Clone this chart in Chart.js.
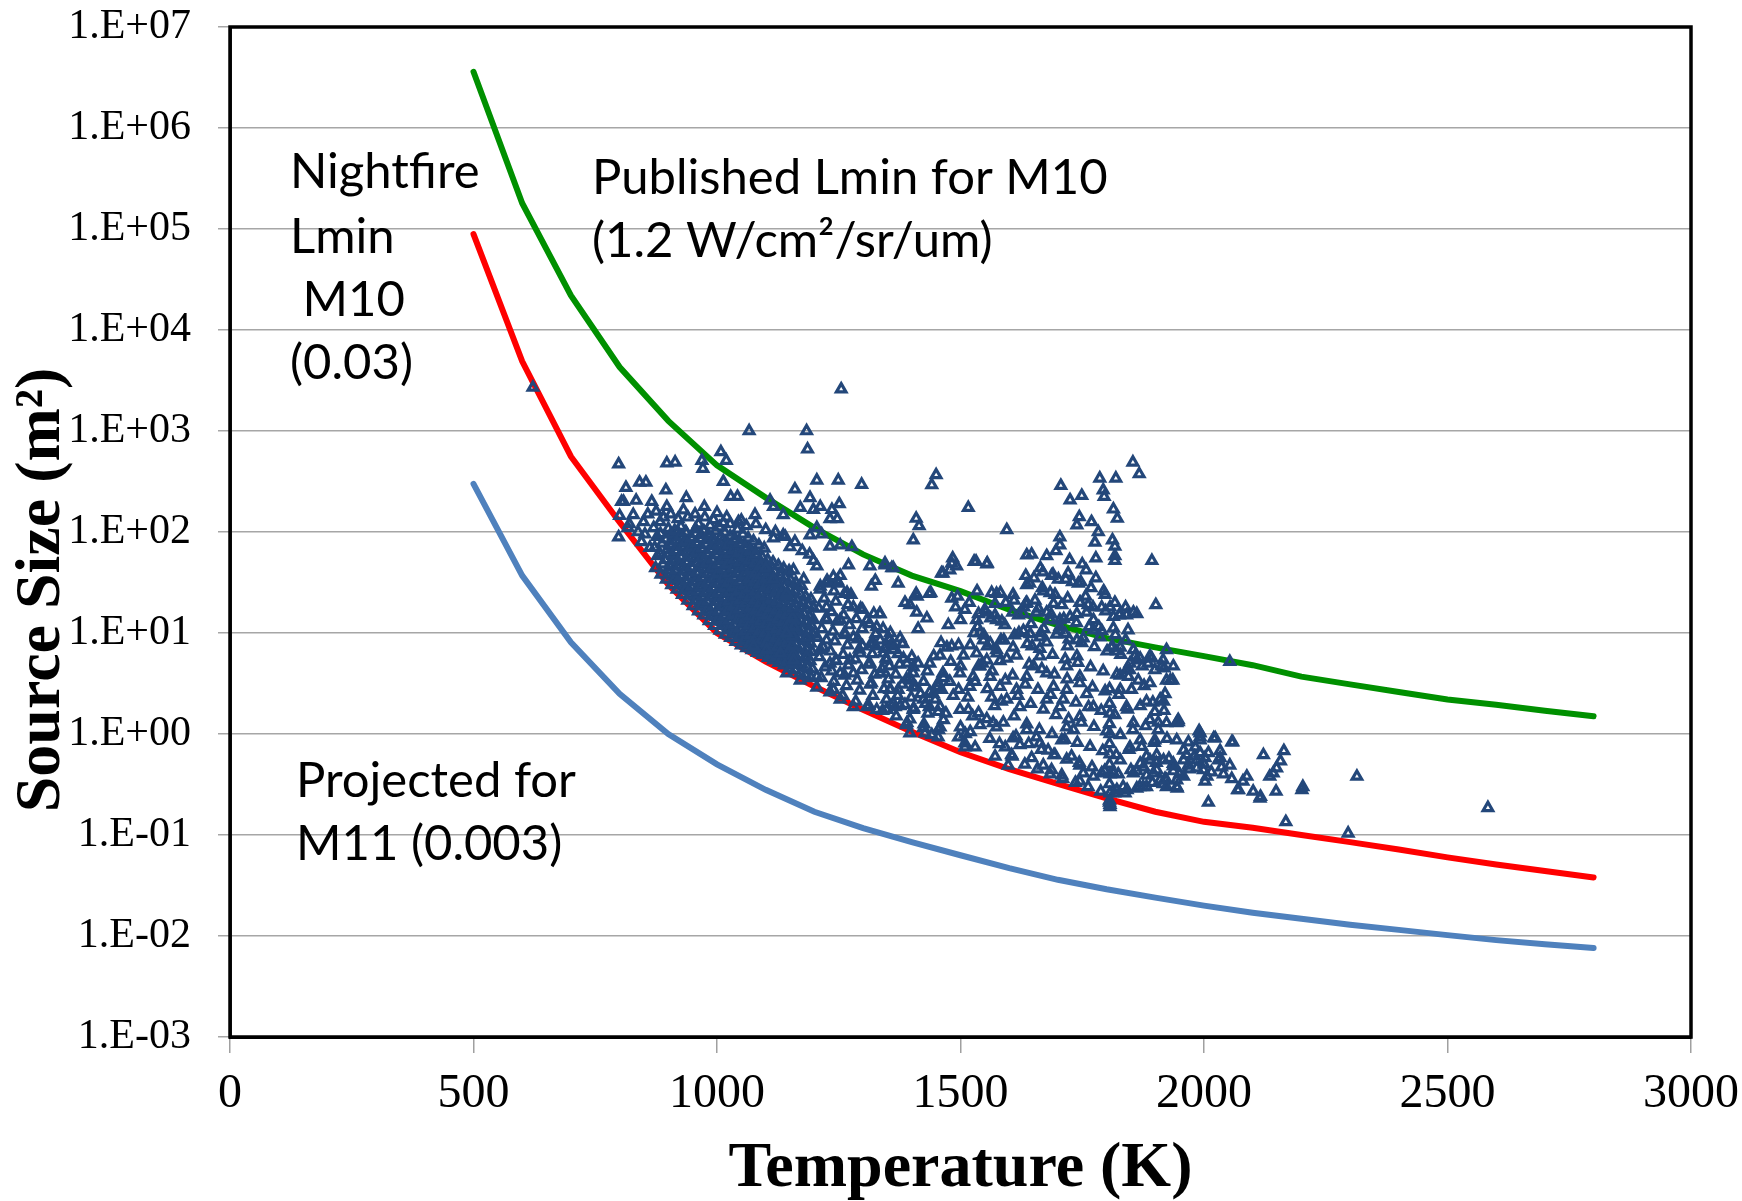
<!DOCTYPE html>
<html>
<head>
<meta charset="utf-8">
<script src="https://cdn.jsdelivr.net/npm/chart.js@4.4.0/dist/chart.umd.min.js"></script>
<style>
  html, body { margin: 0; padding: 0; background: #fff; }
</style>
</head>
<body>
<canvas id="chart" width="1742" height="1201"></canvas>
<script>
// axes
const xTickValues = [0, 500, 1000, 1500, 2000, 2500, 3000];
const xTickLabels = ["0", "500", "1000", "1500", "2000", "2500", "3000"];
const yTickValues = [1e-3, 1e-2, 1e-1, 1e0, 1e1, 1e2, 1e3, 1e4, 1e5, 1e6, 1e7];
const yTickLabels = ["1.E-03", "1.E-02", "1.E-01", "1.E+00", "1.E+01", "1.E+02",
  "1.E+03", "1.E+04", "1.E+05", "1.E+06", "1.E+07"];

// detection limit curves (temperature K -> source size m2)
const curveTemp = [500, 600, 700, 800, 900, 1000, 1100, 1200, 1300, 1400, 1500, 1600,
  1700, 1800, 1900, 2000, 2100, 2200, 2300, 2400, 2500, 2600, 2700, 2800];
const publishedM10 = [3.6e6, 1.8e5, 2.2e4, 4.3e3, 1.26e3, 457, 219, 110, 60, 37, 26, 17,
  12, 8.9, 7.2, 5.9, 4.8, 3.7, 3.1, 2.6, 2.2, 1.95, 1.7, 1.5];
const nightfireM10 = [8.9e4, 4.9e3, 560, 125, 30, 10, 5.2, 2.95, 1.74, 1.05, 0.66, 0.45,
  0.32, 0.23, 0.17, 0.135, 0.118, 0.1, 0.085, 0.072, 0.06, 0.051, 0.044, 0.038];
const projectedM11 = [300, 37, 8.1, 2.5, 1.0, 0.5, 0.28, 0.17, 0.117, 0.085, 0.063, 0.047,
  0.036, 0.029, 0.024, 0.02, 0.017, 0.0148, 0.0129, 0.0115, 0.0102, 0.0091, 0.0083, 0.0076];

// detected fires [temperature K, source size m2]
const firesSparse = [
  [622, 2700], [1255, 2600], [1066, 1000], [1184, 1000], [1186, 660], [798, 470], [897, 480],
  [914, 490], [969, 510], [971, 425], [1008, 620], [1019, 510], [813, 275], [841, 310], [854, 310],
  [895, 260], [1013, 315], [937, 218], [974, 178], [1028, 224], [1042, 224], [1160, 265], [1205, 325],
  [1249, 325], [1297, 295], [1191, 218], [804, 200], [808, 200], [834, 205], [866, 200], [897, 178],
  [800, 145], [828, 148], [849, 126], [883, 126], [931, 165], [1109, 205], [1116, 178], [1136, 148],
  [1171, 174], [1198, 166], [1212, 178], [1236, 166], [1251, 190], [1232, 135], [1247, 135], [798, 89],
  [817, 110], [1078, 148], [1044, 126], [993, 132], [1013, 123], [1027, 120], [1191, 93], [1215, 95],
  [1232, 72], [1253, 74], [1277, 71], [1205, 110], [1314, 46], [1325, 33], [1334, 15.5], [1345, 49],
  [1362, 44], [1270, 47], [1253, 37], [1225, 31], [1247, 33], [1205, 46], [1150, 71], [1116, 87],
  [1136, 93], [820, 120], [838, 100], [852, 95], [845, 80], [862, 70], [870, 110], [858, 150],
  [875, 160], [890, 140], [905, 150], [920, 135], [940, 140], [955, 150], [975, 140], [1000, 155],
  [1020, 140], [1050, 130], [1060, 115], [1080, 120], [1100, 105], [1120, 100], [1140, 90], [1160, 80],
  [1175, 65], [1190, 60]
];
const firesCore = [
  [874, 44], [878, 58], [872, 70], [877, 90],
  [885, 38], [889, 48], [883, 61], [887, 77], [884, 96],
  [896, 34], [899, 42], [894, 53], [898, 67], [895, 85], [900, 108],
  [907, 30], [910, 37], [905, 46], [909, 58], [906, 73], [911, 92],
  [918, 27], [921, 33], [916, 41], [920, 51], [917, 64], [922, 80], [919, 101],
  [929, 24], [932, 29], [927, 36], [931, 45], [928, 57], [933, 71], [930, 90], [926, 113],
  [940, 21], [943, 26], [938, 32], [942, 40], [939, 50], [944, 62], [941, 78], [937, 98],
  [951, 18.5], [954, 23], [949, 28], [953, 35], [950, 44], [955, 55], [952, 69], [948, 86], [956, 107],
  [962, 16.5], [965, 20], [960, 25], [964, 31], [961, 39], [966, 48], [963, 60], [959, 75], [967, 94], [962, 120],
  [973, 15], [976, 18.5], [971, 23], [975, 28], [972, 34], [977, 43], [974, 53], [970, 66], [978, 83], [973, 102],
  [984, 13.2], [987, 16.3], [982, 20.5], [986, 25], [983, 31], [988, 38], [985, 47], [981, 59], [989, 73], [984, 91], [986, 116],
  [995, 11.8], [998, 14.5], [993, 18], [997, 22], [994, 27], [999, 34], [996, 42], [992, 52], [1000, 65], [995, 81], [997, 102],
  [1006, 10.6], [1009, 13], [1004, 16], [1008, 19.5], [1005, 24.5], [1010, 30], [1007, 37], [1003, 46], [1011, 57], [1006, 71], [1008, 89], [1005, 112],
  [1017, 9.7], [1020, 11.8], [1015, 14.5], [1019, 17.5], [1016, 21.5], [1021, 27], [1018, 33], [1014, 41], [1022, 51], [1017, 63], [1019, 79], [1016, 99],
  [1028, 9], [1031, 10.8], [1026, 13.3], [1030, 16.2], [1027, 20], [1032, 24.5], [1029, 30.5], [1025, 38], [1033, 47], [1028, 58], [1030, 72], [1027, 91],
  [1039, 8.2], [1042, 10], [1037, 12.2], [1041, 15], [1038, 18.5], [1043, 22.5], [1040, 28], [1036, 35], [1044, 43], [1039, 53], [1041, 67], [1038, 84], [1042, 106],
  [1050, 7.6], [1053, 9.2], [1048, 11.2], [1052, 13.8], [1049, 17], [1054, 21], [1051, 25.5], [1047, 32], [1055, 39], [1050, 49], [1052, 61], [1049, 76], [1053, 95],
  [1061, 7.1], [1064, 8.6], [1059, 10.6], [1063, 12.8], [1060, 15.8], [1065, 19.4], [1062, 24], [1058, 29.5], [1066, 36.5], [1061, 45], [1063, 56], [1060, 70], [1064, 87],
  [1072, 6.8], [1075, 8.2], [1070, 10], [1074, 12.2], [1071, 14.8], [1076, 18.2], [1073, 22.3], [1069, 27.5], [1077, 33.5], [1072, 41.5], [1074, 52], [1071, 65], [1075, 81],
  [1083, 6.4], [1086, 7.7], [1081, 9.4], [1085, 11.4], [1082, 13.9], [1087, 17], [1084, 20.8], [1080, 25.5], [1088, 31.5], [1083, 38.5], [1085, 48], [1082, 59], [1086, 74],
  [1094, 6.1], [1097, 7.3], [1092, 8.9], [1096, 10.8], [1093, 13.2], [1098, 16.2], [1095, 19.8], [1091, 24.2], [1099, 29.5], [1094, 36.5], [1096, 45], [1093, 56], [1097, 69],
  [1105, 5.7], [1108, 6.9], [1103, 8.4], [1107, 10.2], [1104, 12.4], [1109, 15.2], [1106, 18.6], [1102, 22.8], [1110, 28], [1105, 34.5], [1107, 42.5], [1104, 53],
  [1116, 5.4], [1119, 6.6], [1114, 8], [1118, 9.7], [1115, 11.8], [1120, 14.5], [1117, 17.7], [1113, 21.7], [1121, 26.5], [1116, 32.5], [1118, 40.5], [1115, 50],
  [1127, 5.1], [1130, 6.2], [1125, 7.5], [1129, 9.1], [1126, 11.1], [1131, 13.6], [1128, 16.6], [1124, 20.3], [1132, 24.8], [1127, 30.5], [1129, 37.5], [1126, 46.5],
  [1138, 4.8], [1141, 5.8], [1136, 7.1], [1140, 8.6], [1137, 10.5], [1142, 12.8], [1139, 15.7], [1135, 19.2], [1143, 23.5], [1138, 28.8], [1140, 35.5], [1137, 43.5],
  [1149, 4.5], [1152, 5.5], [1147, 6.7], [1151, 8.1], [1148, 9.9], [1153, 12.1], [1150, 14.8], [1146, 18.1], [1154, 22.2], [1149, 27.2], [1151, 33.5], [1148, 41],
  [1160, 4.3], [1163, 5.2], [1158, 6.3], [1162, 7.7], [1159, 9.4], [1164, 11.5], [1161, 14], [1157, 17.2], [1165, 21], [1160, 25.8], [1162, 31.5],
  [1171, 4], [1174, 4.9], [1169, 6], [1173, 7.3], [1170, 8.9], [1175, 10.8], [1172, 13.2], [1168, 16.2], [1176, 19.8], [1171, 24.2], [1173, 29.5],
  [1182, 3.8], [1185, 4.6], [1180, 5.6], [1184, 6.9], [1181, 8.4], [1186, 10.3], [1183, 12.6], [1179, 15.4], [1187, 18.8], [1182, 23],
  [1193, 3.6], [1196, 4.4], [1191, 5.3], [1195, 6.5], [1192, 7.9], [1197, 9.7], [1194, 11.8], [1190, 14.5], [1198, 17.7], [1193, 21.6]
];
// the darkest part of the cloud, where the marks overlap into a solid mass
const firesCoreFill = [
  [902, 39], [904, 48], [901, 60], [903, 76], [905, 95],
  [913, 34], [915, 42], [912, 52], [914, 65], [916, 82], [913, 103],
  [924, 30], [926, 37], [923, 46], [925, 57], [927, 72], [924, 90],
  [935, 26.5], [937, 33], [934, 41], [936, 51], [938, 64], [935, 80], [936, 100],
  [946, 23.5], [948, 29], [945, 36], [947, 45], [949, 56], [946, 70], [947, 88],
  [957, 21], [959, 26], [956, 32], [958, 40], [960, 50], [957, 62], [958, 78], [956, 96],
  [968, 18.5], [970, 23], [967, 28.5], [969, 35.5], [971, 44], [968, 55], [969, 69], [967, 86],
  [979, 16.5], [981, 20.5], [978, 25.5], [980, 31.5], [982, 39], [979, 49], [980, 61], [978, 76], [981, 94],
  [990, 14.8], [992, 18.3], [989, 22.7], [991, 28], [993, 35], [990, 43.5], [991, 54], [989, 67], [992, 84],
  [1001, 13.2], [1003, 16.4], [1000, 20.3], [1002, 25], [1004, 31], [1001, 38.5], [1002, 48], [1000, 60], [1003, 75],
  [1012, 12], [1014, 14.8], [1011, 18.3], [1013, 22.6], [1015, 28], [1012, 34.5], [1013, 43], [1011, 53], [1014, 66], [1012, 82],
  [1023, 10.8], [1025, 13.4], [1022, 16.6], [1024, 20.5], [1026, 25.4], [1023, 31.4], [1024, 39], [1022, 48], [1025, 60], [1023, 74],
  [1034, 9.9], [1036, 12.2], [1033, 15.1], [1035, 18.7], [1037, 23.1], [1034, 28.6], [1035, 35.4], [1033, 44], [1036, 54], [1034, 67], [1035, 83],
  [1045, 9.1], [1047, 11.2], [1044, 13.9], [1046, 17.2], [1048, 21.2], [1045, 26.3], [1046, 32.5], [1044, 40], [1047, 50], [1045, 62], [1046, 77],
  [1056, 8.4], [1058, 10.4], [1055, 12.8], [1057, 15.8], [1059, 19.6], [1056, 24.2], [1057, 30], [1055, 37], [1058, 46], [1056, 57], [1057, 70],
  [1067, 7.8], [1069, 9.6], [1066, 11.9], [1068, 14.7], [1070, 18.2], [1067, 22.5], [1068, 27.8], [1066, 34.4], [1069, 42.5], [1067, 52.5], [1068, 65],
  [1078, 7.3], [1080, 9], [1077, 11.1], [1079, 13.7], [1081, 17], [1078, 21], [1079, 26], [1077, 32], [1080, 39.5], [1078, 49], [1079, 60],
  [1089, 6.9], [1091, 8.5], [1088, 10.5], [1090, 13], [1092, 16], [1089, 19.8], [1090, 24.5], [1088, 30.3], [1091, 37.5], [1089, 46.3],
  [1100, 6.5], [1102, 8], [1099, 9.9], [1101, 12.2], [1103, 15.1], [1100, 18.7], [1101, 23.1], [1099, 28.6], [1102, 35.3], [1100, 43.7],
  [1111, 6.1], [1113, 7.6], [1110, 9.4], [1112, 11.6], [1114, 14.3], [1111, 17.7], [1112, 21.9], [1110, 27], [1113, 33.4],
  [1122, 5.8], [1124, 7.2], [1121, 8.9], [1123, 11], [1125, 13.6], [1122, 16.8], [1123, 20.7], [1121, 25.6], [1124, 31.6],
  [1133, 5.5], [1135, 6.8], [1132, 8.4], [1134, 10.4], [1136, 12.9], [1133, 15.9], [1134, 19.6], [1132, 24.3],
  [1144, 5.2], [1146, 6.4], [1143, 7.9], [1145, 9.8], [1147, 12.1], [1144, 15], [1145, 18.6], [1143, 23],
  [1155, 4.9], [1157, 6.1], [1154, 7.5], [1156, 9.3], [1158, 11.5], [1155, 14.2], [1156, 17.5]
];
const firesWarm = [
  [1205, 2.9], [1214, 3.6], [1222, 4.6], [1210, 5.8], [1218, 7.2], [1206, 9], [1215, 11], [1224, 14], [1209, 17.5], [1220, 22], [1212, 27], [1226, 33],
  [1232, 2.6], [1240, 3.3], [1236, 4.2], [1245, 5.3], [1233, 6.6], [1242, 8.3], [1238, 10.4], [1247, 13], [1235, 16.2], [1244, 20.5], [1240, 26], [1249, 31],
  [1258, 2.4], [1266, 3], [1262, 3.8], [1270, 4.8], [1259, 6.1], [1268, 7.6], [1263, 9.6], [1272, 12], [1260, 15], [1269, 19], [1275, 24],
  [1285, 2.1], [1293, 2.7], [1288, 3.4], [1297, 4.3], [1284, 5.5], [1292, 6.9], [1289, 8.7], [1298, 11], [1286, 13.8], [1295, 17.5],
  [1312, 1.9], [1320, 2.4], [1315, 3.1], [1324, 3.9], [1311, 4.9], [1319, 6.2], [1316, 7.8], [1326, 9.8], [1313, 12.3], [1322, 15.5],
  [1340, 1.7], [1348, 2.2], [1343, 2.8], [1352, 3.5], [1339, 4.4], [1347, 5.6], [1344, 7], [1353, 8.8], [1341, 11],
  [1368, 1.5], [1376, 1.9], [1371, 2.4], [1380, 3.1], [1367, 3.9], [1375, 4.9], [1372, 6.2], [1381, 7.8],
  [1396, 1.4], [1404, 1.8], [1399, 2.3], [1408, 2.9], [1395, 3.6], [1403, 4.6], [1400, 5.8],
  [1425, 1.25], [1433, 1.6], [1428, 2], [1437, 2.6], [1424, 3.3], [1432, 4.2],
  [1455, 1.1], [1470, 1.6], [1485, 2.4], [1465, 3.6], [1480, 5.2], [1460, 8], [1475, 12], [1490, 18],
  [1510, 1.0], [1525, 1.5], [1515, 2.3], [1530, 3.3], [1545, 5], [1520, 7.6], [1535, 11.5], [1550, 17],
  [1560, 0.9], [1570, 1.9], [1555, 2.8], [1565, 4.2], [1575, 6.3], [1548, 9.5], [1562, 14]
];
const firesMid = [
  [1157, 42], [1178, 34], [1198, 52], [1212, 29], [1239, 36], [1267, 25], [1280, 18], [1308, 13.5],
  [1328, 11.5], [1356, 10], [1253, 13.5], [1225, 18], [1198, 13.5], [1171, 18], [1143, 24.5], [1116, 34],
  [1143, 10], [1184, 9.1], [1225, 8.5], [1280, 9.1], [1321, 7.9],
  [1143, 4.0], [1171, 3.4], [1205, 3.7], [1239, 2.75], [1253, 2.2], [1280, 1.86], [1308, 1.86], [1328, 1.74],
  [1349, 1.74], [1362, 2.0], [1356, 2.75], [1335, 4.0], [1314, 5.0], [1294, 6.3], [1273, 5.4], [1253, 4.0],
  [1232, 5.0], [1212, 6.8], [1184, 5.9], [1157, 5.4], [1130, 6.3], [1102, 6.8], [1075, 7.4], [1342, 6.3], [1362, 7.4],
  [1299, 17], [1335, 15.5], [1354, 8.5], [1381, 7.9], [1326, 7.4], [1354, 4.7], [1390, 5.0], [1399, 3.4],
  [1418, 2.5], [1390, 1.29], [1427, 1.02], [1436, 1.86], [1454, 2.95], [1464, 4.0], [1445, 5.9], [1482, 7.4],
  [1500, 4.7], [1519, 2.95], [1537, 4.7], [1555, 7.4], [1528, 10], [1500, 13.5], [1537, 15.5], [1574, 13.5],
  [1583, 8.5], [1564, 2.3], [1537, 1.62], [1500, 1.17], [1574, 1.17], [1592, 0.74], [1509, 0.74], [1454, 0.93],
  [1244, 5.4], [1280, 4.0], [1317, 3.2], [1299, 7.4], [1262, 10], [1225, 13.5], [1262, 24.5], [1317, 29],
  [1372, 31], [1409, 24.5], [1436, 24.5], [1464, 39], [1482, 49], [1528, 51], [1555, 49], [1574, 24.5],
  [1610, 21], [1629, 15.5], [1620, 10], [1647, 7.4], [1665, 10], [1684, 13.5], [1702, 10.7], [1720, 7.4],
  [1739, 15.5], [1757, 23], [1784, 11.5], [1812, 7.4], [1839, 8.5], [1858, 5.9], [1885, 5.0], [1913, 4.7], [1931, 3.4]
];
const firesHotCore = [
  [1580, 0.8], [1588, 1.3], [1584, 2.1], [1592, 3.4], [1581, 5.3], [1589, 8.5], [1585, 13], [1593, 20],
  [1606, 0.6], [1614, 0.95], [1610, 1.5], [1618, 2.4], [1607, 3.8], [1615, 6], [1611, 9.5], [1619, 15], [1608, 24],
  [1632, 0.5], [1640, 0.8], [1636, 1.25], [1644, 2], [1633, 3.1], [1641, 4.9], [1637, 7.8], [1645, 12.3], [1634, 19.5], [1642, 31],
  [1658, 0.45], [1666, 0.7], [1662, 1.1], [1670, 1.75], [1659, 2.75], [1667, 4.4], [1663, 7], [1671, 11], [1660, 17.5], [1668, 28], [1664, 44],
  [1684, 0.4], [1692, 0.62], [1688, 1], [1696, 1.55], [1685, 2.45], [1693, 3.9], [1689, 6.1], [1697, 9.7], [1686, 15.3], [1694, 24], [1690, 38],
  [1710, 0.36], [1718, 0.56], [1714, 0.88], [1722, 1.4], [1711, 2.2], [1719, 3.5], [1715, 5.5], [1723, 8.7], [1712, 13.8], [1720, 22], [1716, 34], [1724, 53],
  [1736, 0.33], [1744, 0.52], [1740, 0.82], [1748, 1.3], [1737, 2.05], [1745, 3.2], [1741, 5.1], [1749, 8], [1738, 12.6], [1746, 20], [1742, 31], [1750, 48],
  [1762, 0.3], [1770, 0.47], [1766, 0.75], [1774, 1.18], [1763, 1.85], [1771, 2.9], [1767, 4.6], [1775, 7.3], [1764, 11.5], [1772, 18], [1768, 28],
  [1788, 0.27], [1796, 0.43], [1792, 0.68], [1800, 1.07], [1789, 1.7], [1797, 2.65], [1793, 4.2], [1801, 6.6], [1790, 10.5], [1798, 16.5], [1794, 26],
  [1816, 0.26], [1824, 0.4], [1820, 0.62], [1828, 0.98], [1817, 1.55], [1825, 2.45], [1821, 3.9], [1829, 6.1], [1818, 9.6], [1826, 15],
  [1842, 0.28], [1850, 0.44], [1846, 0.7], [1854, 1.1], [1843, 1.75], [1851, 2.75], [1847, 4.3], [1855, 6.8], [1844, 10.7],
  [1868, 0.3], [1876, 0.47], [1872, 0.75], [1880, 1.2], [1869, 1.9], [1877, 3], [1873, 4.7],
  [1894, 0.33], [1902, 0.52], [1898, 0.82], [1906, 1.3], [1895, 2.05],
  [1920, 0.36], [1928, 0.57], [1924, 0.9],
  [1950, 0.4], [1958, 0.55], [1970, 0.45], [1980, 0.6], [2000, 0.5], [2015, 0.42], [2040, 0.4], [2080, 0.34]
];
const firesHot = [
  [1450, 367], [1441, 292], [1516, 174], [1409, 136], [1415, 115], [1403, 83], [1595, 105], [1706, 288],
  [1725, 207], [1749, 229], [1786, 340], [1819, 340], [1793, 260], [1795, 224], [1854, 490], [1867, 375],
  [1814, 168], [1822, 136], [1744, 141], [1739, 117], [1769, 126], [1783, 100], [1776, 79], [1704, 89],
  [1704, 74], [1696, 65], [1812, 83], [1817, 72], [1636, 59], [1646, 60], [1677, 58], [1778, 55],
  [1817, 58], [1817, 52], [1893, 52], [1901, 19], [1484, 55], [1492, 46], [1478, 42], [1461, 39],
  [1532, 51], [1554, 48], [1345, 47], [1359, 44],
  [1634, 37], [1651, 35], [1669, 40], [1687, 37], [1701, 34], [1721, 39], [1730, 32], [1747, 32],
  [1758, 42], [1778, 35], [1797, 24], [1817, 20], [1839, 18], [1855, 16], [1862, 15.5], [1636, 30],
  [1636, 20], [1653, 21], [1670, 26], [1684, 25], [1691, 19.5], [1708, 19], [1386, 20], [1396, 19],
  [1411, 23], [1439, 25], [1410, 16], [1431, 14], [1413, 11], [1482, 22], [1494, 23], [1518, 20],
  [1534, 26], [1564, 25], [1582, 25], [1571, 19.5], [1509, 17], [1533, 13.5], [1552, 16], [1571, 15],
  [1591, 12], [1607, 16], [1630, 18], [1656, 16], [1677, 16], [1684, 13.5], [1704, 13.5], [1725, 14.5],
  [1745, 20], [1762, 19], [1759, 16], [1773, 13.5], [1790, 18], [1807, 18], [1814, 14.5], [1828, 15.5],
  [1841, 15], [1540, 10], [1547, 8.5], [1561, 7.9], [1629, 10.5], [1643, 9.8], [1663, 9.1], [1677, 8.1],
  [1704, 11.5], [1715, 9.8], [1739, 8.5], [1752, 8.9], [1773, 10.7], [1786, 9.1], [1814, 11.2], [1376, 8.9],
  [1359, 7.9], [1335, 8.5],
  [1355, 2.75], [1372, 2.75], [1348, 1.74], [1366, 1.86], [1386, 1.95], [1403, 1.74], [1424, 2.2], [1444, 2.5],
  [1461, 2.75], [1389, 1.23], [1396, 1.02], [1424, 1.15], [1441, 0.98], [1458, 1.17], [1465, 1.38], [1335, 4.0],
  [1348, 5.4], [1362, 6.8], [1383, 5.6], [1403, 4.0], [1413, 5.0], [1389, 3.5], [1403, 2.95], [1437, 5.0],
  [1458, 6.0], [1472, 7.2], [1496, 7.6], [1506, 6.0], [1499, 4.0], [1478, 3.3], [1496, 2.75], [1454, 3.2],
  [1448, 2.2], [1458, 1.86], [1454, 1.66], [1499, 1.74], [1516, 1.74], [1496, 0.93], [1509, 0.81], [1530, 0.74],
  [1520, 1.05], [1540, 1.23], [1567, 1.29], [1554, 1.41], [1571, 0.6], [1598, 0.49], [1605, 0.62], [1622, 0.78],
  [1608, 0.91], [1636, 1.1], [1656, 0.93], [1663, 0.81], [1680, 0.69], [1646, 0.58], [1670, 0.49], [1687, 0.44],
  [1708, 0.39], [1694, 0.62], [1708, 0.87], [1718, 1.17], [1728, 0.6], [1745, 0.49], [1745, 0.34], [1752, 0.41],
  [1773, 0.38], [1790, 0.41], [1526, 3.7], [1540, 4.7], [1533, 6.3], [1554, 5.4], [1574, 6.8], [1595, 5.6],
  [1608, 7.2], [1561, 3.7], [1581, 2.95], [1595, 2.2], [1615, 2.75], [1622, 1.86], [1636, 3.7], [1650, 4.7],
  [1663, 5.9], [1677, 4.0], [1691, 2.95], [1677, 2.2], [1704, 1.86], [1718, 2.75], [1718, 4.7], [1739, 5.9],
  [1745, 3.7], [1759, 2.5], [1773, 1.86], [1745, 1.48], [1732, 1.1], [1828, 2.75], [1841, 1.86], [1855, 1.29],
  [1869, 0.87], [1882, 0.6], [1896, 0.41], [1916, 0.32], [1937, 0.48], [1944, 0.87], [1923, 1.29], [1910, 2.2],
  [1923, 3.4], [1937, 4.7], [1916, 5.4], [1889, 5.9], [1862, 5.4], [1841, 4.3], [1828, 7.2], [1855, 0.41],
  [1875, 0.3], [1834, 0.3], [1814, 0.41], [1828, 0.55], [1848, 0.74],
  [1806, 2.8], [1806, 2.0], [1807, 1.6], [1806, 1.26], [1807, 1.0], [1806, 0.8], [1807, 0.63], [1806, 0.5],
  [1807, 0.4], [1806, 0.32], [1807, 0.26], [1806, 0.22], [1807, 0.2], [1806, 0.21], [1807, 0.19]
];
const firesTail = [
  [1923, 6.8], [2053, 5.2], [1936, 3.4], [1918, 4.5], [1899, 4.3], [1920, 2.5], [1917, 2.1], [1918, 1.7],
  [1947, 1.38], [1944, 1.29], [1990, 1.07], [1992, 0.93], [2020, 0.91], [2057, 0.83], [2033, 0.68], [2033, 0.58],
  [2036, 0.47], [2053, 0.49], [1999, 0.44], [2006, 0.38], [2002, 0.34], [2009, 0.21], [2057, 0.36], [2071, 0.28],
  [2088, 0.38], [2101, 0.27], [2116, 0.24], [2122, 0.62], [2164, 0.68], [2157, 0.54], [2149, 0.46], [2142, 0.41],
  [2135, 0.38], [2148, 0.27], [2201, 0.28], [2203, 0.3], [2168, 0.135], [1968, 0.83], [1958, 0.69], [1964, 0.62],
  [1944, 0.35], [1958, 0.38], [1982, 0.74], [1992, 0.65], [1985, 0.55], [2002, 0.58], [2009, 0.65], [1937, 0.51],
  [1937, 0.43], [1923, 0.35], [1923, 0.3], [1944, 0.3], [1968, 0.49], [1985, 0.46], [1882, 0.3], [1862, 0.29],
  [1838, 0.26], [1821, 0.28], [1882, 0.39], [1862, 0.43], [1903, 0.44], [1910, 0.35], [1889, 0.55], [1869, 0.51],
  [1903, 0.62], [1917, 0.55], [1899, 0.87], [1906, 1.1], [1889, 1.38], [1899, 1.66], [1882, 2.1], [1889, 3.2],
  [1865, 3.4], [1845, 3.7], [1828, 3.8], [1869, 5.6], [1893, 5.6], [1848, 5.0], [1821, 6.6], [1810, 7.2],
  [2314, 0.38], [2583, 0.186], [2296, 0.104], [2059, 0.83], [2023, 0.91], [2030, 0.55], [2115, 0.23], [2069, 0.28],
  [1945, 0.29], [1947, 1.32], [1992, 1.02], [1992, 0.87]
];

const toPoints = (pairs) => pairs.map(p => ({ x: p[0], y: p[1] }));
const toCurve = (sizes) => curveTemp.map((t, i) => ({ x: t, y: sizes[i] }));

const allFires = [].concat(firesSparse, firesCore, firesCoreFill, firesWarm, firesMid,
  firesHotCore, firesHot, firesTail);

// texts written inside the plot, plus the rotated y title
const notesPlugin = {
  id: "notes",
  afterDraw(chart) {
    const ctx = chart.ctx;
    ctx.save();
    ctx.fillStyle = "#000";
    ctx.textBaseline = "middle";
    ctx.font = "49px Lato";
    ctx.fillText("Nightfire", 290, 172);
    ctx.fillText("Lmin", 290, 237);
    ctx.fillText(" M10", 290, 300);
    ctx.fillText("(0.03)", 290, 363);
    ctx.fillText("Published Lmin for M10", 592, 178);
    ctx.fillText("(1.2 W/cm\u00B2/sr/um)", 592, 241);
    ctx.fillText("Projected for", 296, 781);
    ctx.fillText("M11 (0.003)", 296, 844);

    ctx.translate(42, 590);
    ctx.rotate(-Math.PI / 2);
    ctx.textAlign = "center";
    ctx.font = "bold 64px 'Liberation Serif'";
    ctx.fillText("Source Size (m\u00B2)", 0, 0);
    ctx.restore();
  }
};

// black frame round the plot area
const framePlugin = {
  id: "frame",
  afterDraw(chart) {
    const { ctx, chartArea: a } = chart;
    ctx.save();
    ctx.strokeStyle = "#000";
    ctx.lineWidth = 3.5;
    ctx.strokeRect(a.left, a.top, a.right - a.left, a.bottom - a.top);
    ctx.restore();
  }
};

new Chart(document.getElementById("chart"), {
  type: "scatter",
  data: {
    datasets: [
      {
        label: "Fires",
        data: toPoints(allFires),
        pointStyle: "triangle",
        pointRadius: 5.5,
        pointBorderWidth: 3.2,
        borderColor: "#23477a",
        backgroundColor: "rgba(0,0,0,0)",
        showLine: false,
        order: 0,
      },
      {
        label: "Published Lmin M10",
        data: toCurve(publishedM10),
        showLine: true,
        borderColor: "#009000",
        borderWidth: 6,
        borderCapStyle: "round",
        pointRadius: 0,
        tension: 0,
        order: 1,
      },
      {
        label: "Nightfire Lmin M10",
        data: toCurve(nightfireM10),
        showLine: true,
        borderColor: "#ff0000",
        borderWidth: 6,
        borderCapStyle: "round",
        pointRadius: 0,
        tension: 0,
        order: 1,
      },
      {
        label: "Projected M11",
        data: toCurve(projectedM11),
        showLine: true,
        borderColor: "#4f81bd",
        borderWidth: 6,
        borderCapStyle: "round",
        pointRadius: 0,
        tension: 0,
        order: 1,
      },
    ],
  },
  options: {
    responsive: false,
    animation: false,
    devicePixelRatio: 1,
    layout: { padding: { top: 27, right: 51, left: 0, bottom: 0 } },
    plugins: {
      legend: { display: false },
      tooltip: { enabled: false },
    },
    scales: {
      x: {
        type: "linear",
        min: 0,
        max: 3000,
        afterFit: (s) => { s.height = 164; s.paddingLeft = 0; s.paddingRight = 0; },
        afterBuildTicks: (axis) => { axis.ticks = xTickValues.map(v => ({ value: v })); },
        ticks: {
          callback: (v) => xTickLabels[xTickValues.indexOf(v)],
          font: { family: "Liberation Serif", size: 48 },
          color: "#000",
          padding: 13,
          maxRotation: 0,
        },
        grid: { drawOnChartArea: false, tickLength: 16, color: "#a0a0a0", lineWidth: 1.5 },
        border: { color: "#000", width: 3 },
        title: {
          display: true,
          text: "Temperature (K)",
          font: { family: "Liberation Serif", size: 64, weight: "bold", lineHeight: 1.0 },
          color: "#000",
          padding: { top: 0, bottom: 0 },
        },
      },
      y: {
        type: "logarithmic",
        min: 1e-3,
        max: 1e7,
        afterFit: (s) => { s.width = 230; s.paddingTop = 0; s.paddingBottom = 0; },
        afterBuildTicks: (axis) => { axis.ticks = yTickValues.map(v => ({ value: v })); },
        ticks: {
          callback: (v) => yTickLabels[yTickValues.indexOf(v)],
          font: { family: "Liberation Serif", size: 42 },
          color: "#000",
          padding: 27,
        },
        grid: { color: "#a6a6a6", lineWidth: 1.5, tickLength: 12 },
        border: { color: "#222", width: 3 },
      },
    },
  },
  plugins: [notesPlugin, framePlugin],
});
</script>
</body>
</html>
